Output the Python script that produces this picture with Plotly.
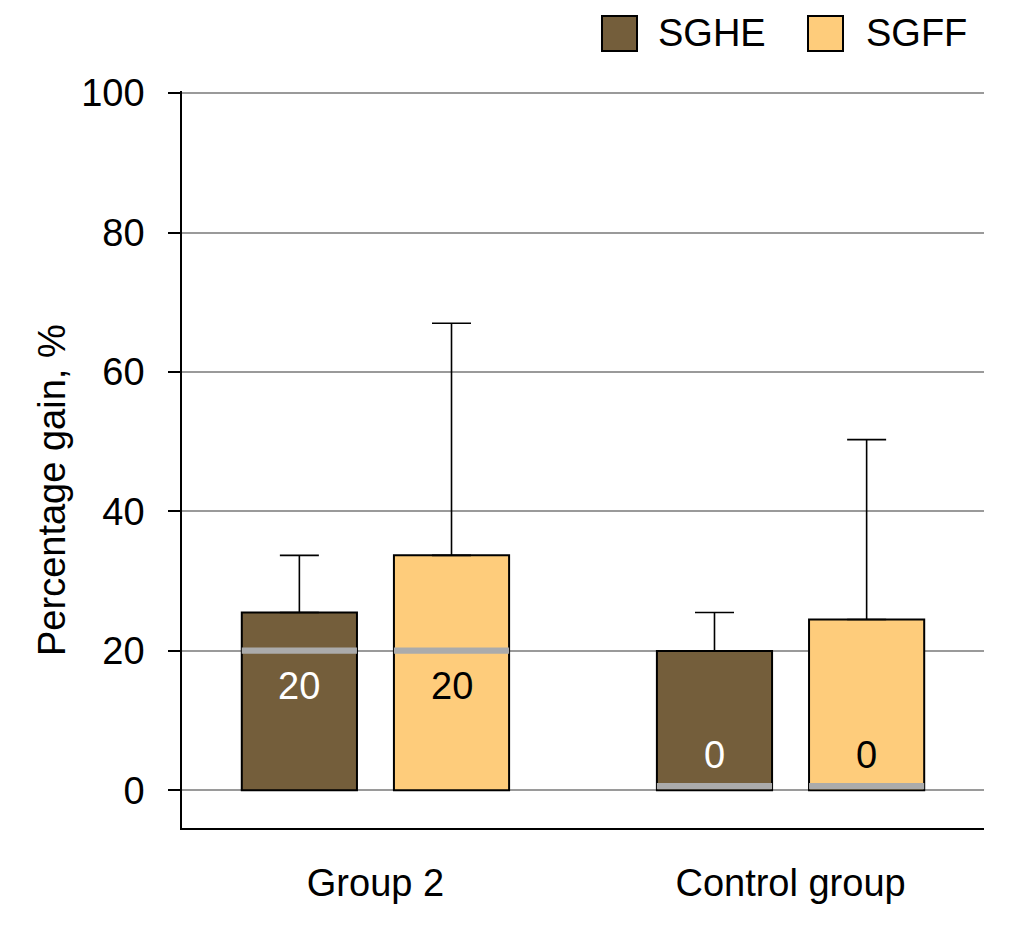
import plotly.graph_objects as go

categories = ["Group 2", "Control group"]
series_names = ["SGHE", "SGFF"]
series_colors = ["#745E3B", "#FECC7B"]
label_colors = ["white", "black"]
# bar heights (upper quartile), error bar top (max), median
sghe_top = [25.5, 20.0]
sghe_max = [33.7, 25.5]
sghe_median = [20, 0]
sgff_top = [33.7, 24.5]
sgff_max = [67.0, 50.3]
sgff_median = [20, 0]
yticks = [0, 20, 40, 60, 80, 100]

tops = [sghe_top, sgff_top]
maxs = [sghe_max, sgff_max]
medians = [sghe_median, sgff_median]

FONT = "Liberation Sans, Arial, sans-serif"
FS = 38
bargap = 0.267
bargroupgap = 0.243
slot = (1 - bargap) / 2
barw = slot * (1 - bargroupgap)

fig = go.Figure()
for k, name in enumerate(series_names):
    fig.add_trace(go.Bar(
        x=categories, y=tops[k], name=name,
        marker=dict(color=series_colors[k], line=dict(color="black", width=2)),
        error_y=dict(type="data", symmetric=False,
                     array=[m - t for m, t in zip(maxs[k], tops[k])],
                     arrayminus=[0] * len(categories),
                     color="black", thickness=1.6, width=19.5),
        showlegend=False,
    ))

shapes = []
annotations = []
for k in range(len(series_names)):
    off = (k - 0.5) * slot
    for i, cat in enumerate(categories):
        m = medians[k][i]
        x0 = i + off - barw / 2
        x1 = i + off + barw / 2
        y0 = max(m - 0.4, 0.15)
        y1 = y0 + 0.9
        shapes.append(dict(type="rect", xref="x", yref="y", x0=x0, x1=x1, y0=y0, y1=y1,
                           fillcolor="#ABABAB", line=dict(width=0), layer="above"))
        ly = m - 5 if m >= 5 else m + 5
        annotations.append(dict(x=i + off, y=ly, xref="x", yref="y", text=str(m),
                                showarrow=False, font=dict(family=FONT, size=FS, color=label_colors[k])))

# page offset of 8px (body margin) accounted for in margins
OFF = 8
PLOT_L, PLOT_R, PLOT_T, PLOT_B = 182, 984, 91, 828
pw, ph = PLOT_R - PLOT_L, PLOT_B - PLOT_T
def px(x):
    return (x - PLOT_L) / pw
def py(y):
    return (PLOT_B - y) / ph
leg_sq_x = [602, 808]
leg_tx_x = [656, 864]
for k, name in enumerate(series_names):
    shapes.append(dict(type="rect", xref="paper", yref="paper",
                       x0=px(leg_sq_x[k]), x1=px(leg_sq_x[k] + 35), y0=py(51), y1=py(16),
                       fillcolor=series_colors[k], line=dict(color="black", width=2)))
    annotations.append(dict(x=px(leg_tx_x[k]), y=py(33.5), xref="paper", yref="paper",
                            text=name, showarrow=False, xanchor="left", yanchor="middle",
                            font=dict(family=FONT, size=FS, color="black")))

annotations.append(dict(x=px(52), y=py(490), xref="paper", yref="paper",
                        text="Percentage gain, %", textangle=-90, showarrow=False,
                        xanchor="center", yanchor="middle",
                        font=dict(family=FONT, size=FS, color="black")))

W, H = 1016, 946
fig.update_layout(
    width=W, height=H,
    margin=dict(l=PLOT_L - OFF, r=W - (PLOT_R - OFF), t=PLOT_T - OFF, b=H - (PLOT_B - OFF)),
    paper_bgcolor="white", plot_bgcolor="white",
    barmode="group", bargap=bargap, bargroupgap=bargroupgap,
    font=dict(family=FONT, size=FS, color="black"),
    shapes=shapes, annotations=annotations,
    xaxis=dict(range=[-0.466, 1.466], showline=True, linecolor="black", linewidth=2,
               ticks="", showgrid=False, ticklabelstandoff=20,
               tickfont=dict(family=FONT, size=FS)),
    yaxis=dict(range=[-5.4, 100.3], tickvals=yticks, showline=True, linecolor="black",
               linewidth=1.6, ticks="outside", ticklen=12, tickwidth=1.6, tickcolor="black",
               showgrid=True, gridcolor="#9A9A9A", gridwidth=1.6, zeroline=False,
               ticklabelstandoff=16, tickfont=dict(family=FONT, size=FS)),
)

fig.write_html("out.html")
